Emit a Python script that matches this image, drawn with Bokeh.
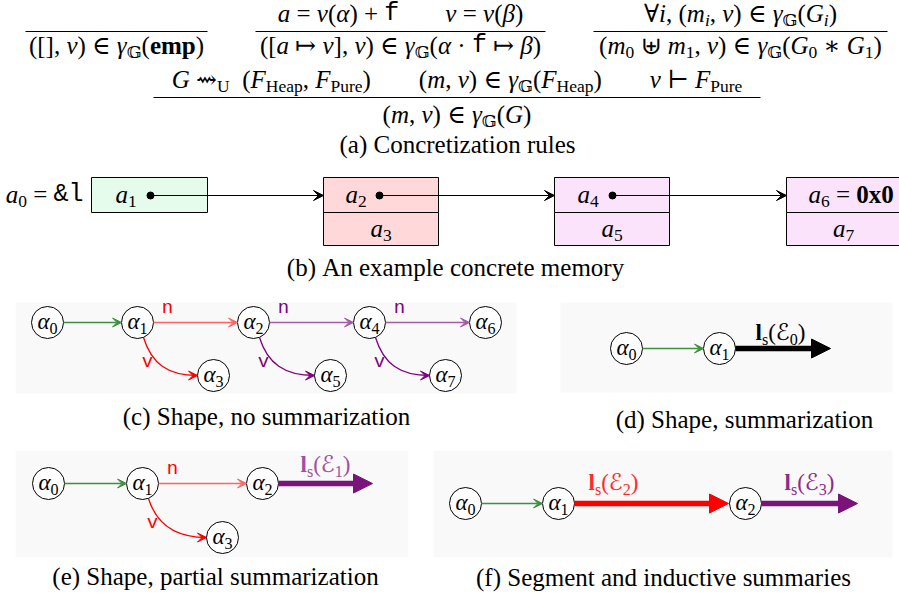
import glob, os, struct
from bokeh.plotting import figure
from bokeh.models import Range1d, ColumnDataSource, Arrow, VeeHead, NormalHead
from bokeh.core.properties import value, field
from bokeh.embed import file_html
from bokeh.resources import INLINE

# ---------------- content ----------------
CAPTIONS = ["(a) Concretization rules", "(b) An example concrete memory",
            "(c) Shape, no summarization", "(d) Shape, summarization",
            "(e) Shape, partial summarization", "(f) Segment and inductive summaries"]
CAPTION_X = [457, 455, 266, 744, 215, 663]
CAPTION_Y = [151, 274, 423, 426, 583, 584]

# inference rules: (premises, conclusion)
R_EMP_CONC = [("([], ", "rm"), ("ν", "it"), (") ∈ ", "rm"), ("γ", "it"), ("𝔾", "sb"),
              ("(", "rm"), ("emp", "bf"), (")", "rm")]
R_PT_PREM = [
    [("a", "it"), (" = ", "rm"), ("ν", "it"), ("(", "rm"), ("α", "it"), (") + ", "rm"), ("f", "tt")],
    [("v", "it"), (" = ", "rm"), ("ν", "it"), ("(", "rm"), ("β", "it"), (")", "rm")],
]
R_PT_CONC = [("([", "rm"), ("a", "it"), (" ↦ ", "rm"), ("v", "it"), ("], ", "rm"), ("ν", "it"),
             (") ∈ ", "rm"), ("γ", "it"), ("𝔾", "sb"), ("(", "rm"), ("α", "it"), (" · ", "rm"),
             ("f", "tt"), (" ↦ ", "rm"), ("β", "it"), (")", "rm")]
R_SEP_PREM = [[("∀", "rm"), ("i", "it"), (", (", "rm"), ("m", "it"), ("i", "si"), (", ", "rm"),
               ("ν", "it"), (") ∈ ", "rm"), ("γ", "it"), ("𝔾", "sb"), ("(", "rm"), ("G", "it"),
               ("i", "si"), (")", "rm")]]
R_SEP_CONC = [("(", "rm"), ("m", "it"), ("0", "sb"), (" ⊎ ", "rm"), ("m", "it"), ("1", "sb"),
              (", ", "rm"), ("ν", "it"), (") ∈ ", "rm"), ("γ", "it"), ("𝔾", "sb"), ("(", "rm"),
              ("G", "it"), ("0", "sb"), (" ∗ ", "rm"), ("G", "it"), ("1", "sb"), (")", "rm")]
R_G_PREM = [
    [("G", "it"), (" ⇝", "rm"), ("U", "sb"), ("  (", "rm"), ("F", "it"), ("Heap", "sb"), (", ", "rm"),
     ("F", "it"), ("Pure", "sb"), (")", "rm")],
    [("(", "rm"), ("m", "it"), (", ", "rm"), ("ν", "it"), (") ∈ ", "rm"), ("γ", "it"), ("𝔾", "sb"),
     ("(", "rm"), ("F", "it"), ("Heap", "sb"), (")", "rm")],
    [("ν", "it"), (" ⊢ ", "rm"), ("F", "it"), ("Pure", "sb")],
]
R_G_CONC = [("(", "rm"), ("m", "it"), (", ", "rm"), ("ν", "it"), (") ∈ ", "rm"), ("γ", "it"),
            ("𝔾", "sb"), ("(", "rm"), ("G", "it"), (")", "rm")]

# rule layout: line x-extent, line y, premise baseline, conclusion baseline
RULE_X0 = [25, 255, 593, 153]
RULE_X1 = [207, 545, 887, 760]
RULE_Y = [31, 31, 31, 97]
PREM_Y = [20, 20, 20, 86]
CONC_Y = [52, 52, 52, 121]
PREM_GAP = [46, 46, 46, 48]

# (b) concrete memory
MEM_X0 = [91, 323, 554, 786]
MEM_X1 = [207, 438, 669, 905]
MEM_FILL = ["#e5fbeb", "#ffd9d9", "#fbe3fb", "#fbe3fb"]
MEM_TOP = [[("a", "it"), ("1", "sb")], [("a", "it"), ("2", "sb")], [("a", "it"), ("4", "sb")],
           [("a", "it"), ("6", "sb"), (" = ", "rm"), ("0x0", "bf")]]
MEM_TOP_X = [115, 345, 577, 808]
MEM_BOT = [None, [("a", "it"), ("3", "sb")], [("a", "it"), ("5", "sb")], [("a", "it"), ("7", "sb")]]
MEM_DOT_X = [150, 379, 612]
MEM_Y = [177, 212, 245]
MEM_ROW_Y = [201, 235]
ROOT_LABEL = [("a", "it"), ("0", "sb"), (" = ", "rm"), ("&l", "tt")]

# shape graphs
GREEN, RED_L, RED, PURP_L, PURP, PURP_D = "#3f8f3f", "#ff6464", "#ff0000", "#a55aa5", "#800080", "#7a147a"

C_NODES = ["0", "1", "2", "4", "6", "3", "5", "7"]
C_X = [47, 137, 253, 369, 485, 213, 330, 445]
C_Y = [322, 322, 322, 322, 322, 375, 375, 375]
C_EDGES = [("0", "1", GREEN, None, None), ("1", "2", RED_L, "n", RED),
           ("2", "4", PURP_L, "n", PURP), ("4", "6", PURP_L, "n", PURP)]
C_CURVES = [("1", "3", RED), ("2", "5", PURP), ("4", "7", PURP)]

D_NODES = ["0", "1"]; D_X = [626, 719]; D_Y = [348, 348]
D_EDGES = [("0", "1", GREEN, None, None)]
D_CURVES = []

E_NODES = ["0", "1", "2", "3"]; E_X = [48, 142, 262, 222]; E_Y = [483, 483, 483, 537]
E_EDGES = [("0", "1", GREEN, None, None), ("1", "2", RED_L, "n", RED)]
E_CURVES = [("1", "3", RED)]

F_NODES = ["0", "1", "2"]; F_X = [465, 558, 745]; F_Y = [503, 503, 503]
F_EDGES = [("0", "1", GREEN, None, None)]
F_CURVES = []

# summary arrows
SUM_X0 = [735, 278, 574, 761]
SUM_X1 = [830, 372, 728, 857]
SUM_Y = [348, 483, 503, 503]
SUM_COLOR = ["#000000", PURP_D, RED, PURP_D]
SUM_IDX = ["0", "1", "2", "3"]
SUM_LBL_COLOR = ["#000000", "#a24ea2", "#ff2a2a", "#8e2a8e"]
SUM_LBL_X = [780, 325, 613, 809]
SUM_LBL_Y = [339, 471, 489, 489]

PANEL_L = [15, 560, 15, 433]
PANEL_R = [516, 892, 408, 892]
PANEL_T = [302, 302, 450, 450]
PANEL_B = [393, 392, 557, 557]

# ---------------- text metrics ----------------
FAMILIES = {"serif": "Liberation Serif, DejaVu Serif, DejaVu Sans",
            "mono": "Liberation Mono, DejaVu Sans Mono, DejaVu Sans"}
FONT_FILES = {("serif", "normal"): "LiberationSerif-Regular.ttf",
              ("serif", "italic"): "LiberationSerif-Italic.ttf",
              ("serif", "bold"): "LiberationSerif-Bold.ttf",
              ("mono", "normal"): "LiberationMono-Regular.ttf"}
FALLBACKS = {"serif": ["DejaVuSerif.ttf", "DejaVuSans.ttf"],
             "mono": ["DejaVuSansMono.ttf", "DejaVuSans.ttf"]}
STYLES = {"rm": ("serif", "normal", 1.0, 0.0), "it": ("serif", "italic", 1.0, 0.0),
          "bf": ("serif", "bold", 1.0, 0.0), "tt": ("mono", "normal", 1.0, 0.0),
          "sb": ("serif", "normal", 0.7, 0.2), "si": ("serif", "italic", 0.7, 0.2)}
BASE_FIX = 0.29   # renderer puts alphabetic baseline this many em too low

_font_cache = {}


def _find(name):
    roots = ["/usr/share/fonts", "/usr/local/share/fonts",
             os.path.expanduser("~/.fonts"), os.path.expanduser("~/.local/share/fonts")]
    for r in roots:
        hits = glob.glob(os.path.join(r, "**", name), recursive=True)
        if hits:
            return hits[0]
    return None


def _parse(path):
    data = open(path, "rb").read()
    n = struct.unpack(">H", data[4:6])[0]
    tabs = {}
    for i in range(n):
        tag, _, off, ln = struct.unpack(">4sIII", data[12 + 16 * i: 28 + 16 * i])
        tabs[tag.decode("latin1")] = off
    upem = struct.unpack(">H", data[tabs["head"] + 18: tabs["head"] + 20])[0]
    nhm = struct.unpack(">H", data[tabs["hhea"] + 34: tabs["hhea"] + 36])[0]
    ho = tabs["hmtx"]
    adv = [struct.unpack(">H", data[ho + 4 * i: ho + 4 * i + 2])[0] for i in range(nhm)]
    co = tabs["cmap"]
    nsub = struct.unpack(">H", data[co + 2: co + 4])[0]
    best = None
    for i in range(nsub):
        pid, eid, so = struct.unpack(">HHI", data[co + 4 + 8 * i: co + 12 + 8 * i])
        fmt = struct.unpack(">H", data[co + so: co + so + 2])[0]
        if fmt == 12:
            best = (12, co + so)
        elif fmt == 4 and best is None:
            best = (4, co + so)
    cmap = {}
    fmt, o = best
    if fmt == 4:
        segx2 = struct.unpack(">H", data[o + 6: o + 8])[0]
        seg = segx2 // 2
        ends = struct.unpack(">%dH" % seg, data[o + 14: o + 14 + segx2])
        starts = struct.unpack(">%dH" % seg, data[o + 16 + segx2: o + 16 + 2 * segx2])
        deltas = struct.unpack(">%dh" % seg, data[o + 16 + 2 * segx2: o + 16 + 3 * segx2])
        rp = o + 16 + 3 * segx2
        roffs = struct.unpack(">%dH" % seg, data[rp: rp + segx2])
        for s in range(seg):
            for c in range(starts[s], ends[s] + 1):
                if c == 0xFFFF:
                    continue
                if roffs[s] == 0:
                    g = (c + deltas[s]) & 0xFFFF
                else:
                    gp = rp + 2 * s + roffs[s] + 2 * (c - starts[s])
                    g = struct.unpack(">H", data[gp: gp + 2])[0]
                    if g:
                        g = (g + deltas[s]) & 0xFFFF
                if g:
                    cmap[c] = g
    else:
        ng = struct.unpack(">I", data[o + 12: o + 16])[0]
        for k in range(ng):
            sc, ec, sg = struct.unpack(">III", data[o + 16 + 12 * k: o + 28 + 12 * k])
            for c in range(sc, ec + 1):
                cmap[c] = sg + (c - sc)
    return upem, adv, cmap


def _font(name):
    if name not in _font_cache:
        path = _find(name)
        try:
            _font_cache[name] = _parse(path) if path else None
        except Exception:
            _font_cache[name] = None
    return _font_cache[name]


def char_em(ch, fam, fst):
    chain = [FONT_FILES.get((fam, fst), FONT_FILES[(fam, "normal")])] + FALLBACKS[fam]
    for name in chain:
        f = _font(name)
        if f is None:
            continue
        upem, adv, cmap = f
        g = cmap.get(ord(ch))
        if g is not None:
            return adv[min(g, len(adv) - 1)] / upem
    return 0.25 if ch in " \u00a0" else 0.55


TXT = []


def typeset(pieces, size):
    items, x = [], 0.0
    for txt, st in pieces:
        txt = txt.replace(" ", "\u00a0")
        fam, fst, scale, drop = STYLES[st]
        fs = size * scale
        items.append((txt, x, drop * size, fam, fst, fs))
        x += sum(char_em(ch, fam, fst) for ch in txt) * fs
    return items, x


def place(pieces, x, y, size, align="left", color="#000000"):
    items, w = typeset(pieces, size)
    x0 = x - {"left": 0.0, "center": w / 2.0, "right": w}[align]
    for txt, dx, dy, fam, fst, fs in items:
        TXT.append((fam, fst, x0 + dx, y + dy - BASE_FIX * fs, txt, "%.1fpx" % fs, color))
    return w


def place_group(groups, cx, y, size, gap):
    widths = [typeset(g, size)[1] for g in groups]
    x = cx - (sum(widths) + gap * (len(groups) - 1)) / 2.0
    for g, w in zip(groups, widths):
        place(g, x, y, size)
        x += w + gap


# ---------------- figure ----------------
W, H = 899, 597
p = figure(width=W, height=H, x_range=Range1d(0, W), y_range=Range1d(H, 0),
           output_backend="svg", toolbar_location=None, min_border=0,
           x_axis_location=None, y_axis_location=None)
p.grid.visible = False
p.outline_line_color = None
p.background_fill_color = "#ffffff"
p.border_fill_color = "#ffffff"

FS = 25

# (a) rules
rules = [([], R_EMP_CONC), (R_PT_PREM, R_PT_CONC), (R_SEP_PREM, R_SEP_CONC), (R_G_PREM, R_G_CONC)]
p.segment(x0=RULE_X0, x1=RULE_X1, y0=RULE_Y, y1=RULE_Y, line_color="#000000", line_width=1)
for i, (prem, conc) in enumerate(rules):
    cx = (RULE_X0[i] + RULE_X1[i]) / 2.0
    if prem:
        place_group(prem, cx, PREM_Y[i], FS, PREM_GAP[i])
    place(conc, cx, CONC_Y[i], FS, "center")

# captions
for t, x, y in zip(CAPTIONS, CAPTION_X, CAPTION_Y):
    place([(t, "rm")], x, y, FS, "center")

# (b) memory
top_l, top_r, top_t, top_b, top_c = [], [], [], [], []
for i in range(4):
    top_l.append(MEM_X0[i]); top_r.append(MEM_X1[i]); top_t.append(MEM_Y[0]); top_b.append(MEM_Y[1])
    top_c.append(MEM_FILL[i])
    if MEM_BOT[i] is not None:
        top_l.append(MEM_X0[i]); top_r.append(MEM_X1[i]); top_t.append(MEM_Y[1]); top_b.append(MEM_Y[2])
        top_c.append(MEM_FILL[i])
p.quad(left=top_l, right=top_r, top=top_t, bottom=top_b, fill_color=top_c,
       line_color="#000000", line_width=1)
place(ROOT_LABEL, 83, MEM_ROW_Y[0], FS, "right")
for i in range(4):
    place(MEM_TOP[i], MEM_TOP_X[i], MEM_ROW_Y[0], FS)
    if MEM_BOT[i] is not None:
        place(MEM_BOT[i], (MEM_X0[i] + min(MEM_X1[i], 900)) / 2.0, MEM_ROW_Y[1], FS, "center")
dot_y = (MEM_Y[0] + MEM_Y[1]) / 2.0 + 0.5
p.scatter(x=MEM_DOT_X, y=[dot_y] * 3, size=7, color="#000000")
for i in range(3):
    p.add_layout(Arrow(end=VeeHead(size=10, fill_color="#000000", line_color="#000000", line_width=1),
                       x_start=MEM_DOT_X[i], y_start=dot_y, x_end=MEM_X0[i + 1], y_end=dot_y,
                       line_color="#000000", line_width=1))

# panels
p.quad(left=PANEL_L, right=PANEL_R, top=PANEL_T, bottom=PANEL_B, fill_color="#f9f9f9", line_color=None)

R = 16


def draw_graph(nodes, xs, ys, edges, curves):
    pos = {n: (x, y) for n, x, y in zip(nodes, xs, ys)}
    for a, b, col, lbl, lcol in edges:
        (x0, y0), (x1, y1) = pos[a], pos[b]
        p.add_layout(Arrow(end=VeeHead(size=9, fill_color=col, line_color=col, line_width=1),
                           x_start=x0 + R, y_start=y0, x_end=x1 - R, y_end=y1,
                           line_color=col, line_width=1.3))
        if lbl:
            place([(lbl, "tt")], x0 + 30, y0 - 9, 19, "center", lcol)
    for a, b, col in curves:
        (x0, y0), (x1, y1) = pos[a], pos[b]
        sx, sy = x0 + 6, y0 + 15
        ex, ey = x1 - R, y1
        p.bezier(x0=[sx], y0=[sy], x1=[ex], y1=[ey], cx0=[sx + 8], cy0=[sy + 26],
                 cx1=[ex - 30], cy1=[ey], line_color=col, line_width=1.3)
        p.add_layout(Arrow(end=VeeHead(size=9, fill_color=col, line_color=col, line_width=1),
                           x_start=ex - 3, y_start=ey, x_end=ex, y_end=ey,
                           line_color=col, line_alpha=0.0, line_width=1))
        place([("v", "tt")], x0 + 10, y0 + 45, 19, "center", col)
    p.circle(x=xs, y=ys, radius=R, fill_color="#ffffff", line_color="#000000", line_width=1)
    for n, x, y in zip(nodes, xs, ys):
        place([("α", "it"), (n, "sb")], x, y + 6, 23, "center")


draw_graph(C_NODES, C_X, C_Y, C_EDGES, C_CURVES)
draw_graph(D_NODES, D_X, D_Y, D_EDGES, D_CURVES)
draw_graph(E_NODES, E_X, E_Y, E_EDGES, E_CURVES)
draw_graph(F_NODES, F_X, F_Y, F_EDGES, F_CURVES)

# summary arrows
for i in range(4):
    c = SUM_COLOR[i]
    p.segment(x0=[SUM_X0[i]], x1=[SUM_X1[i] - 16], y0=[SUM_Y[i]], y1=[SUM_Y[i]], line_color=c, line_width=5.5)
    p.add_layout(Arrow(end=NormalHead(size=19, fill_color=c, line_color=c, line_width=1),
                       x_start=SUM_X1[i] - 19, y_start=SUM_Y[i], x_end=SUM_X1[i], y_end=SUM_Y[i],
                       line_alpha=0.0))
    place([("l", "bf"), ("s", "sb"), ("(", "rm"), ("ℰ", "rm"), (SUM_IDX[i], "sb"), (")", "rm")],
          SUM_LBL_X[i], SUM_LBL_Y[i], 23, "center", SUM_LBL_COLOR[i])

# render texts grouped by font
groups = {}
for fam, fst, x, y, t, fs, c in TXT:
    d = groups.setdefault((fam, fst), {"x": [], "y": [], "text": [], "fs": [], "color": []})
    d["x"].append(x); d["y"].append(y); d["text"].append(t); d["fs"].append(fs); d["color"].append(c)
for (fam, fst), d in groups.items():
    p.text(x="x", y="y", text="text", source=ColumnDataSource(d), text_font=value(FAMILIES[fam]),
           text_font_style=fst, text_font_size=field("fs"), text_color="color",
           text_align="left", text_baseline="alphabetic")

open("out.html", "w").write(file_html(p, INLINE))
